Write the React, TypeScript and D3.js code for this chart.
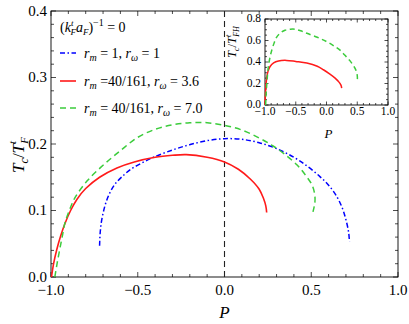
import React from "react";
import * as d3 from "d3";

type Pt = [number, number];

const blueData: Pt[] = [
  [-0.72, 0.047], [-0.717, 0.065], [-0.71, 0.082], [-0.698, 0.098], [-0.682, 0.113], [-0.66, 0.127],
  [-0.63, 0.14], [-0.59, 0.151], [-0.54, 0.162], [-0.48, 0.171], [-0.41, 0.18], [-0.3, 0.191],
  [-0.2, 0.199], [-0.1, 0.205], [0, 0.208], [0.1, 0.207], [0.2, 0.202], [0.3, 0.193],
  [0.4, 0.18], [0.48, 0.166], [0.55, 0.151], [0.6, 0.138], [0.645, 0.122], [0.68, 0.103],
  [0.703, 0.083], [0.716, 0.066], [0.72, 0.053],
];

const redData: Pt[] = [
  [-0.997, 0.0], [-0.985, 0.02], [-0.967, 0.041], [-0.944, 0.062], [-0.92, 0.08], [-0.887, 0.1],
  [-0.85, 0.117], [-0.8, 0.133], [-0.72, 0.15], [-0.62, 0.164], [-0.52, 0.173], [-0.4, 0.18],
  [-0.3, 0.183], [-0.22, 0.184], [-0.1, 0.18], [0, 0.173], [0.08, 0.162], [0.15, 0.147],
  [0.2, 0.132], [0.225, 0.118], [0.238, 0.107], [0.243, 0.097],
];

const greenData: Pt[] = [
  [-0.978, 0.0], [-0.965, 0.02], [-0.95, 0.041], [-0.935, 0.061], [-0.92, 0.081], [-0.89, 0.103],
  [-0.86, 0.12], [-0.79, 0.145], [-0.7, 0.168], [-0.6, 0.19], [-0.5, 0.21], [-0.4, 0.222],
  [-0.3, 0.229], [-0.2, 0.232], [-0.1, 0.232], [0, 0.228], [0.1, 0.221], [0.2, 0.209],
  [0.28, 0.197], [0.35, 0.184], [0.42, 0.168], [0.47, 0.152], [0.505, 0.138], [0.52, 0.124],
  [0.521, 0.112], [0.51, 0.098],
];

const insetRed: Pt[] = [
  [-1.0, 0.0], [-0.995, 0.08], [-0.985, 0.18], [-0.97, 0.26], [-0.95, 0.315], [-0.92, 0.356],
  [-0.86, 0.392], [-0.78, 0.41], [-0.65, 0.415], [-0.5, 0.405], [-0.32, 0.39], [-0.15, 0.36],
  [-0.05, 0.328], [0.05, 0.29], [0.14, 0.25], [0.2, 0.215], [0.235, 0.185], [0.247, 0.158],
];

const insetGreen: Pt[] = [
  [-0.99, 0.0], [-0.98, 0.12], [-0.965, 0.24], [-0.946, 0.356], [-0.92, 0.44], [-0.89, 0.51],
  [-0.85, 0.58], [-0.81, 0.632], [-0.75, 0.67], [-0.675, 0.695], [-0.59, 0.705], [-0.51, 0.705],
  [-0.42, 0.69], [-0.32, 0.667], [-0.15, 0.63], [0.0, 0.59], [0.12, 0.55], [0.22, 0.51],
  [0.32, 0.45], [0.41, 0.39], [0.46, 0.345], [0.49, 0.305], [0.502, 0.26], [0.5, 0.22],
];

const xTicks = [-1.0, -0.5, 0.0, 0.5, 1.0];
const yTicks = [0.0, 0.1, 0.2, 0.3, 0.4];
const insetXTicks = [-1.0, -0.5, 0.0, 0.5, 1.0];
const insetYTicks = [0.0, 0.2, 0.4, 0.6, 0.8];

const FONT = "'Liberation Serif', 'DejaVu Serif', serif";
const BLUE = "#0000ff";
const RED = "#ff1a1a";
const GREEN = "#3ccc3c";

const fmt = (v: number) => (v < 0 ? "\u2212" : "") + Math.abs(v).toFixed(1);

function range(a: number, b: number, step: number) {
  const out: number[] = [];
  const n = Math.round((b - a) / step);
  for (let i = 0; i <= n; i++) out.push(+(a + i * step).toFixed(6));
  return out;
}

function Frame(props: {
  x: d3.ScaleLinear<number, number>;
  y: d3.ScaleLinear<number, number>;
  xMajor: number[];
  yMajor: number[];
  xMinor: number[];
  yMinor: number[];
  major: number;
  minor: number;
  fontSize: number;
  labelGap: number;
  yGap: number;
}) {
  const { x, y, xMajor, yMajor, xMinor, yMinor, major, minor, fontSize, labelGap, yGap } = props;
  const [x0, x1] = x.range();
  const [y0, y1] = y.range();
  const ticks: React.ReactNode[] = [];
  xMinor.forEach((v, i) => {
    const isMaj = xMajor.some((m) => Math.abs(m - v) < 1e-6);
    const L = isMaj ? major : minor;
    ticks.push(<line key={"xb" + i} x1={x(v)} x2={x(v)} y1={y0} y2={y0 - L} stroke="#000" strokeWidth={0.7} />);
    ticks.push(<line key={"xt" + i} x1={x(v)} x2={x(v)} y1={y1} y2={y1 + L} stroke="#000" strokeWidth={0.7} />);
  });
  yMinor.forEach((v, i) => {
    const isMaj = yMajor.some((m) => Math.abs(m - v) < 1e-6);
    const L = isMaj ? major : minor;
    ticks.push(<line key={"yl" + i} x1={x0} x2={x0 + L} y1={y(v)} y2={y(v)} stroke="#000" strokeWidth={0.7} />);
    ticks.push(<line key={"yr" + i} x1={x1} x2={x1 - L} y1={y(v)} y2={y(v)} stroke="#000" strokeWidth={0.7} />);
  });
  return (
    <g>
      <rect x={x0} y={y1} width={x1 - x0} height={y0 - y1} fill="#fff" stroke="#000" strokeWidth={0.9} />
      {ticks}
      {xMajor.map((v) => (
        <text key={"xl" + v} x={x(v)} y={y0 + labelGap + fontSize * 0.7} textAnchor="middle" fontSize={fontSize} fontFamily={FONT}>
          {fmt(v)}
        </text>
      ))}
      {yMajor.map((v) => (
        <text key={"yl" + v} x={x0 - yGap} y={y(v) + fontSize * 0.3} textAnchor="end" fontSize={fontSize} fontFamily={FONT}>
          {fmt(v)}
        </text>
      ))}
    </g>
  );
}

export default function App() {
  const W = 409;
  const H = 324;
  const x = d3.scaleLinear().domain([-1, 1]).range([51, 398]);
  const y = d3.scaleLinear().domain([0, 0.4]).range([277, 11]);
  const ix = d3.scaleLinear().domain([-1, 1]).range([265, 388]);
  const iy = d3.scaleLinear().domain([0, 0.8]).range([105, 19]);

  const line = d3.line<Pt>().x((d) => x(d[0])).y((d) => y(d[1])).curve(d3.curveCatmullRom.alpha(0.5));
  const iline = d3.line<Pt>().x((d) => ix(d[0])).y((d) => iy(d[1])).curve(d3.curveCatmullRom.alpha(0.5));

  const legendX = 60;
  const legendLen = 16;
  const textX = 84;
  const sub = { fontSize: 10 };

  return (
    <svg width={W} height={H} style={{ position: "absolute", left: 0, top: 0 }}>
      <rect width={W} height={H} fill="#fff" />
      <Frame
        x={x}
        y={y}
        xMajor={xTicks}
        yMajor={yTicks}
        xMinor={range(-1, 1, 0.1)}
        yMinor={range(0, 0.4, 0.02)}
        major={5}
        minor={3}
        fontSize={15}
        labelGap={7}
        yGap={4}
      />
      <line x1={x(0)} x2={x(0)} y1={y(0.4)} y2={y(0)} stroke="#222" strokeWidth={1.1} strokeDasharray="6,4" />

      <path d={line(blueData) || ""} fill="none" stroke={BLUE} strokeWidth={1.5} strokeDasharray="5,2.5,1.5,2.5" />
      <path d={line(redData) || ""} fill="none" stroke={RED} strokeWidth={1.6} />
      <path d={line(greenData) || ""} fill="none" stroke={GREEN} strokeWidth={1.5} strokeDasharray="6,4" />

      {/* legend */}
      <text x={legendX} y={32} fontSize={14} fontFamily={FONT}>
        (<tspan fontStyle="italic">k</tspan>
        <tspan fontSize={9} dy={-6} fontStyle="italic">t</tspan>
        <tspan fontSize={9} dx={-3} dy={9} fontStyle="italic">F</tspan>
        <tspan fontStyle="italic" dy={-3}>a</tspan>
        <tspan fontSize={9} dy={3} fontStyle="italic">F</tspan>
        <tspan dy={-3}>)</tspan>
        <tspan fontSize={10} dy={-6}>{"\u22121"}</tspan>
        <tspan dy={6}>{" = 0"}</tspan>
      </text>

      <line x1={legendX} x2={legendX + legendLen} y1={53} y2={53} stroke={BLUE} strokeWidth={1.5} strokeDasharray="5,2.5,1.5,2.5" />
      <text x={textX} y={58} fontSize={14} fontFamily={FONT}>
        <tspan fontStyle="italic">r</tspan>
        <tspan {...sub} dy={3} fontStyle="italic">m</tspan>
        <tspan dy={-3}>{" = 1, "}</tspan>
        <tspan fontStyle="italic">r</tspan>
        <tspan {...sub} dy={3} fontStyle="italic">{"\u03c9"}</tspan>
        <tspan dy={-3}>{" = 1"}</tspan>
      </text>

      <line x1={legendX} x2={legendX + legendLen} y1={81} y2={81} stroke={RED} strokeWidth={1.6} />
      <text x={textX} y={86} fontSize={14} fontFamily={FONT}>
        <tspan fontStyle="italic">r</tspan>
        <tspan {...sub} dy={3} fontStyle="italic">m</tspan>
        <tspan dy={-3}>{" =40/161, "}</tspan>
        <tspan fontStyle="italic">r</tspan>
        <tspan {...sub} dy={3} fontStyle="italic">{"\u03c9"}</tspan>
        <tspan dy={-3}>{" = 3.6"}</tspan>
      </text>

      <line x1={legendX} x2={legendX + legendLen} y1={108} y2={108} stroke={GREEN} strokeWidth={1.5} strokeDasharray="6,4" />
      <text x={textX} y={113} fontSize={14} fontFamily={FONT}>
        <tspan fontStyle="italic">r</tspan>
        <tspan {...sub} dy={3} fontStyle="italic">m</tspan>
        <tspan dy={-3}>{" = 40/161, "}</tspan>
        <tspan fontStyle="italic">r</tspan>
        <tspan {...sub} dy={3} fontStyle="italic">{"\u03c9"}</tspan>
        <tspan dy={-3}>{" = 7.0"}</tspan>
      </text>

      {/* axis titles */}
      <text x={x(0)} y={318} textAnchor="middle" fontSize={17} fontStyle="italic" fontFamily={FONT}>
        P
      </text>
      <text transform="translate(24,155) rotate(-90)" textAnchor="middle" fontSize={17} fontFamily={FONT}>
        <tspan fontStyle="italic">T</tspan>
        <tspan fontSize={12} dy={4} fontStyle="italic">c</tspan>
        <tspan dy={-4}>/</tspan>
        <tspan fontStyle="italic">T</tspan>
        <tspan fontSize={11} dy={-8} fontStyle="italic">t</tspan>
        <tspan fontSize={11} dx={-3} dy={12} fontStyle="italic">F</tspan>
      </text>

      {/* inset */}
      <Frame
        x={ix}
        y={iy}
        xMajor={insetXTicks}
        yMajor={insetYTicks}
        xMinor={range(-1, 1, 0.1)}
        yMinor={range(0, 0.8, 0.05)}
        major={3.5}
        minor={2}
        fontSize={11.5}
        labelGap={2}
        yGap={4}
      />
      <path d={iline(insetRed) || ""} fill="none" stroke={RED} strokeWidth={1.5} />
      <path d={iline(insetGreen) || ""} fill="none" stroke={GREEN} strokeWidth={1.5} strokeDasharray="5,3.5" />
      <text x={ix(0) + 2} y={138} textAnchor="middle" fontSize={13} fontStyle="italic" fontFamily={FONT}>
        P
      </text>
      <text transform="translate(236,42) rotate(-90)" textAnchor="middle" fontSize={12} fontFamily={FONT}>
        <tspan fontStyle="italic">T</tspan>
        <tspan fontSize={9} dy={3} fontStyle="italic">c</tspan>
        <tspan dy={-3}>/</tspan>
        <tspan fontStyle="italic">T</tspan>
        <tspan fontSize={8} dy={-5} fontStyle="italic">t</tspan>
        <tspan fontSize={8} dx={-2} dy={8} fontStyle="italic">FH</tspan>
      </text>
    </svg>
  );
}
